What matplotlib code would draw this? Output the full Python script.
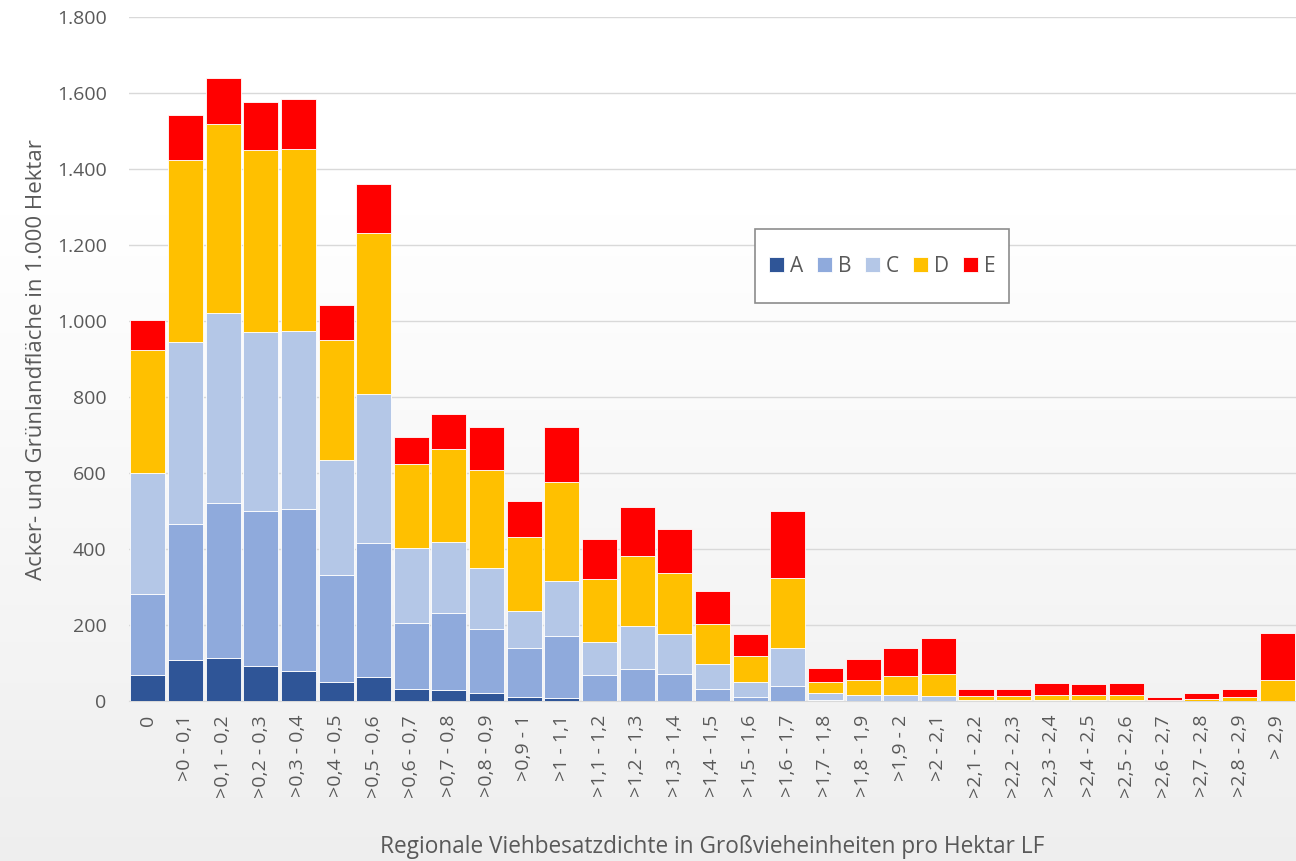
import matplotlib
matplotlib.use("Agg")
import matplotlib.pyplot as plt
import numpy as np
from matplotlib.ticker import FuncFormatter
from matplotlib.patches import Rectangle

categories = ["0", ">0 - 0,1", ">0,1 - 0,2", ">0,2 - 0,3", ">0,3 - 0,4", ">0,4 - 0,5",
              ">0,5 - 0,6", ">0,6 - 0,7", ">0,7 - 0,8", ">0,8 - 0,9", ">0,9 - 1",
              ">1 - 1,1", ">1,1 - 1,2", ">1,2 - 1,3", ">1,3 - 1,4", ">1,4 - 1,5",
              ">1,5 - 1,6", ">1,6 - 1,7", ">1,7 - 1,8", ">1,8 - 1,9", ">1,9 - 2",
              ">2 - 2,1", ">2,1 - 2,2", ">2,2 - 2,3", ">2,3 - 2,4", ">2,4 - 2,5",
              ">2,5 - 2,6", ">2,6 - 2,7", ">2,7 - 2,8", ">2,8 - 2,9", "> 2,9"]

A = [68, 107, 112, 93, 78, 50, 62, 32, 28, 20, 10, 7, 0, 0, 0, 0, 0, 0, 0, 0, 0,
     0, 0, 0, 0, 0, 0, 0, 0, 0, 0]
B = [213, 359, 408, 406, 427, 281, 353, 173, 204, 169, 129, 164, 68, 84, 71, 32,
     10, 39, 2, 1, 0, 0, 0, 0, 0, 0, 0, 0, 0, 0, 0]
C = [320, 478, 502, 473, 469, 303, 394, 199, 187, 161, 98, 144, 88, 114, 106, 65,
     39, 100, 18, 14, 17, 14, 3, 2, 2, 2, 2, 0, 0, 1, 0]
D = [324, 480, 497, 478, 478, 317, 424, 221, 244, 258, 194, 261, 165, 185, 160, 107,
     69, 186, 31, 40, 48, 58, 10, 11, 14, 14, 14, 3, 6, 9, 55]
E = [78, 118, 121, 126, 134, 91, 128, 69, 93, 113, 95, 146, 106, 127, 117, 85,
     59, 176, 36, 55, 74, 95, 19, 19, 31, 29, 31, 7, 15, 22, 123]

series = {"A": A, "B": B, "C": C, "D": D, "E": E}
colors = {"A": "#2F5597", "B": "#8FAADC", "C": "#B4C7E7", "D": "#FFC000", "E": "#FF0000"}

font = ["Open Sans", "DejaVu Sans"]
plt.rcParams['font.family'] = font
txt = "#595959"

fig = plt.figure(figsize=(12.96, 8.61), dpi=100)

# background gradient (white at top, light grey at bottom)
bg = fig.add_axes([0, 0, 1, 1], zorder=-10)
t = np.linspace(0, 1, 256).reshape(-1, 1)  # 0 = top
grad = 1.0 - 0.065 * np.clip((t - 0.25) / 0.75, 0, 1)
bg.imshow(np.dstack([grad, grad, grad]), aspect="auto", extent=[0, 1, 0, 1])
bg.axis("off")

ax = fig.add_axes([0.0995, 0.1858, 0.9005, 0.7942])
ax.set_facecolor("none")

x = np.arange(len(categories))
bottom = np.zeros(len(categories))
for name, vals in series.items():
    v = np.array(vals, dtype=float)
    ax.bar(x, v, width=0.93, bottom=bottom, color=colors[name], label=name,
           edgecolor="white", linewidth=0.6, zorder=3)
    bottom += v

ax.set_xlim(-0.5, len(categories) - 0.5)
ax.set_ylim(0, 1800)
ax.set_yticks(np.arange(0, 1801, 200))
ax.yaxis.set_major_formatter(FuncFormatter(lambda v, p: f"{int(v):,}".replace(",", ".")))
ax.grid(axis="y", color="#d9d9d9", linewidth=1.0, zorder=0)
ax.set_axisbelow(True)
for s in ["top", "right", "left"]:
    ax.spines[s].set_visible(False)
ax.spines["bottom"].set_color("#d9d9d9")
ax.tick_params(axis="both", length=0, colors=txt)
ax.tick_params(axis="y", pad=16, labelsize=14)
ax.tick_params(axis="x", pad=10, labelsize=14)
ax.set_xticks(x)
ax.set_xticklabels(categories, rotation=90, color=txt)

ax.set_ylabel("Acker- und Grünlandfläche in 1.000 Hektar", fontsize=16, color=txt, labelpad=7)
ax.set_xlabel("Regionale Viehbesatzdichte in Großvieheinheiten pro Hektar LF", fontsize=16.3,
              color=txt, labelpad=27)

# legend frame drawn separately (more vertical padding than horizontal)
fig.patches.append(Rectangle((755 / 1296, 1 - 303 / 861), 254 / 1296, 74 / 861,
                             transform=fig.transFigure, facecolor="white",
                             edgecolor="#8c8c8c", linewidth=1.2, zorder=5))
leg = fig.legend(loc="center", bbox_to_anchor=(882 / 1296, 1 - 266 / 861), ncol=5,
                 frameon=False, fontsize=15, handlelength=0.72, handleheight=0.72,
                 handletextpad=0.3, columnspacing=0.65, labelcolor=txt)
leg.set_zorder(6)

fig.savefig("out.png", dpi=100)
